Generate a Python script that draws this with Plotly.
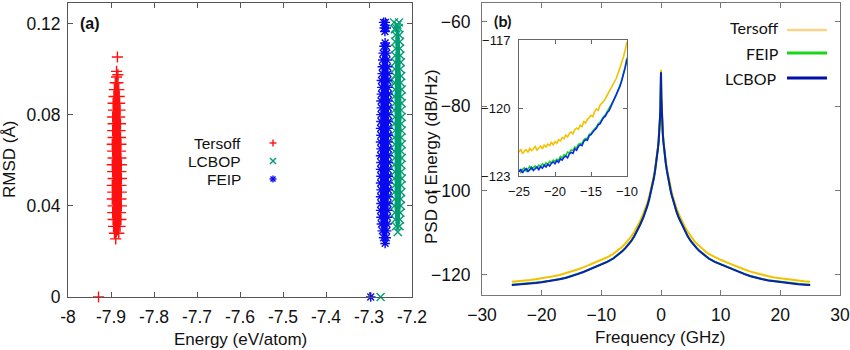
import plotly.graph_objects as go

# ---------------- Panel (a) data: RMSD vs Energy (cloud outlines) ----------------
tersoff_cloud_E = [-7.889, -7.892, -7.894, -7.895, -7.896, -7.895, -7.897, -7.896, -7.897, -7.895,
                   -7.896, -7.897, -7.895, -7.896, -7.897, -7.895, -7.896, -7.895, -7.896, -7.894,
                   -7.895, -7.893, -7.892, -7.890,
                   -7.887,
                   -7.884, -7.882, -7.881, -7.880, -7.879, -7.880, -7.878, -7.879, -7.878, -7.877,
                   -7.878, -7.877, -7.876, -7.877, -7.876, -7.877, -7.876, -7.877, -7.876, -7.878,
                   -7.877, -7.879, -7.882]
tersoff_cloud_R = [0.0255, 0.028, 0.031, 0.034, 0.037, 0.040, 0.043, 0.046, 0.049, 0.052,
                   0.055, 0.058, 0.061, 0.064, 0.067, 0.070, 0.073, 0.076, 0.079, 0.082,
                   0.085, 0.088, 0.091, 0.094,
                   0.0965,
                   0.094, 0.091, 0.088, 0.085, 0.082, 0.079, 0.076, 0.073, 0.070, 0.067,
                   0.064, 0.061, 0.058, 0.055, 0.052, 0.049, 0.046, 0.043, 0.040, 0.037,
                   0.034, 0.031, 0.028]
tersoff_extra_E = [-7.885, -7.887, -7.884, -7.929]
tersoff_extra_R = [0.1053, 0.099, 0.0975, 0.0]

feip_cloud_E = [-7.2625, -7.266, -7.269, -7.271, -7.272, -7.273, -7.272, -7.273, -7.272, -7.273,
                -7.272, -7.273, -7.272, -7.273, -7.272, -7.273, -7.272, -7.273, -7.272, -7.272,
                -7.271, -7.272, -7.271, -7.270, -7.271, -7.269, -7.269, -7.268, -7.267, -7.265,
                -7.2625,
                -7.260, -7.259, -7.258, -7.257, -7.256, -7.257, -7.256, -7.255, -7.256, -7.255,
                -7.256, -7.255, -7.256, -7.255, -7.256, -7.255, -7.256, -7.255, -7.256, -7.255,
                -7.256, -7.255, -7.256, -7.256, -7.257, -7.257, -7.258, -7.259, -7.260]
feip_cloud_R = [0.0235, 0.026, 0.029, 0.032, 0.035, 0.038, 0.041, 0.044, 0.047, 0.050,
                0.053, 0.056, 0.059, 0.062, 0.065, 0.068, 0.071, 0.074, 0.077, 0.080,
                0.083, 0.086, 0.089, 0.092, 0.095, 0.098, 0.101, 0.104, 0.107, 0.110,
                0.1115,
                0.110, 0.107, 0.104, 0.101, 0.098, 0.095, 0.092, 0.089, 0.086, 0.083,
                0.080, 0.077, 0.074, 0.071, 0.068, 0.065, 0.062, 0.059, 0.056, 0.053,
                0.050, 0.047, 0.044, 0.041, 0.038, 0.035, 0.032, 0.029, 0.026]
feip_extra_E = [-7.266, -7.262, -7.2645, -7.260, -7.263, -7.296]
feip_extra_R = [0.1205, 0.1205, 0.118, 0.118, 0.1165, 0.0]

lcbop_cloud_E = [-7.233, -7.237, -7.239, -7.240, -7.241, -7.240, -7.241, -7.240, -7.241, -7.240,
                 -7.241, -7.240, -7.241, -7.240, -7.241, -7.240, -7.241, -7.240, -7.241, -7.240,
                 -7.241, -7.240, -7.240, -7.239, -7.240, -7.239, -7.239, -7.238, -7.239, -7.238,
                 -7.237, -7.234,
                 -7.231, -7.229, -7.228, -7.228, -7.227, -7.226, -7.227, -7.225, -7.226, -7.224,
                 -7.225, -7.224, -7.225, -7.224, -7.225, -7.224, -7.225, -7.224, -7.225, -7.224,
                 -7.225, -7.225, -7.224, -7.225, -7.225, -7.226, -7.226, -7.227, -7.228, -7.229]
lcbop_cloud_R = [0.0285, 0.031, 0.034, 0.037, 0.040, 0.043, 0.046, 0.049, 0.052, 0.055,
                 0.058, 0.061, 0.064, 0.067, 0.070, 0.073, 0.076, 0.079, 0.082, 0.085,
                 0.088, 0.091, 0.094, 0.097, 0.100, 0.103, 0.106, 0.109, 0.112, 0.115,
                 0.118, 0.1195,
                 0.118, 0.115, 0.112, 0.109, 0.106, 0.103, 0.100, 0.097, 0.094, 0.091,
                 0.088, 0.085, 0.082, 0.079, 0.076, 0.073, 0.070, 0.067, 0.064, 0.061,
                 0.058, 0.055, 0.052, 0.049, 0.046, 0.043, 0.040, 0.037, 0.034, 0.031]
lcbop_extra_E = [-7.242, -7.230, -7.240, -7.2505, -7.273]
lcbop_extra_R = [0.1205, 0.1205, 0.1175, 0.095, 0.0]

energy_ticks = [-8.0, -7.9, -7.8, -7.7, -7.6, -7.5, -7.4, -7.3, -7.2]
energy_ticklabels = ["-8", "-7.9", "-7.8", "-7.7", "-7.6", "-7.5", "-7.4", "-7.3", "-7.2"]
rmsd_ticks = [0, 0.04, 0.08, 0.12]
rmsd_ticklabels = ["0", "0.04", "0.08", "0.12"]

# ---------------- Panel (b) data: PSD of energy ----------------
freq_main = [-25, -24, -23, -22, -21, -20, -19, -18, -17, -16, -15, -14, -13, -12, -11, -10, -9,
             -8, -7.5, -7, -6.5, -6, -5.5, -5, -4.5, -4, -3.5, -3, -2.6, -2.3, -2, -1.8, -1.6, -1.4,
             -1.2, -1, -0.8, -0.7, -0.6, -0.5, -0.4, -0.3, -0.2, -0.15, -0.1, -0.06, -0.03,
             0,
             0.03, 0.06, 0.1, 0.15, 0.2, 0.3, 0.4, 0.5, 0.6, 0.7, 0.8, 1, 1.2,
             1.4, 1.6, 1.8, 2, 2.3, 2.6, 3, 3.5, 4, 4.5, 5, 5.5, 6, 6.5, 7, 7.5, 8,
             9, 10, 11, 12, 13, 14, 15, 16, 17, 18, 19, 20, 21, 22, 23, 24, 25]
tersoff_psd = [-121.6, -121.5, -121.4, -121.2, -121.0, -120.8, -120.6, -120.3, -120.0, -119.6,
               -119.2, -118.7, -118.2, -117.6, -117.0, -116.4, -115.8,
               -115.0, -114.5, -113.9, -113.3, -112.6, -111.8, -110.9, -109.8, -108.6, -107.2,
               -105.6, -104.2, -103.0, -101.5, -100.4, -99.3, -98.0, -96.5, -94.9, -93.0,
               -91.9, -90.8, -89.5, -88.0, -86.1, -83.6, -82.0, -79.9, -77.6, -75.0,
               -71.4,
               -75.0, -77.6, -79.9, -82.0, -83.6, -86.1, -88.0, -89.5, -90.8, -91.9,
               -93.0, -94.9, -96.5, -98.0, -99.3, -100.4, -101.5, -103.0, -104.2, -105.6,
               -107.2, -108.6, -109.8, -110.9, -111.8, -112.6, -113.3, -113.9, -114.5, -115.0,
               -115.8, -116.4, -117.0, -117.6, -118.2, -118.7, -119.2, -119.6, -120.0, -120.3,
               -120.6, -120.8, -121.0, -121.2, -121.4, -121.5, -121.6]
feip_psd = [-122.3, -122.2, -122.1, -121.95, -121.8, -121.65, -121.45, -121.25, -120.95, -120.65,
            -120.25, -119.75, -119.25, -118.65, -118.05, -117.45, -116.85,
            -116.05, -115.55, -114.95, -114.35, -113.65, -112.85, -111.95, -110.85, -109.55, -108.05,
            -106.45, -104.95, -103.65, -102.15, -101.05, -99.85, -98.55, -97.05, -95.35, -93.45,
            -92.35, -91.15, -89.85, -88.35, -86.45, -83.95, -82.35, -80.25, -77.95, -75.45,
            -72.0,
            -75.45, -77.95, -80.25, -82.35, -83.95, -86.45, -88.35, -89.85, -91.15, -92.35,
            -93.45, -95.35, -97.05, -98.55, -99.85, -101.05, -102.15, -103.65, -104.95, -106.45,
            -108.05, -109.55, -110.85, -111.95, -112.85, -113.65, -114.35, -114.95, -115.55, -116.05,
            -116.85, -117.45, -118.05, -118.65, -119.25, -119.75, -120.25, -120.65, -120.95, -121.25,
            -121.45, -121.65, -121.8, -121.95, -122.1, -122.2, -122.3]
lcbop_psd = [-122.4, -122.3, -122.2, -122.0, -121.9, -121.7, -121.5, -121.3, -121.0, -120.7,
             -120.3, -119.8, -119.3, -118.7, -118.1, -117.5, -116.9,
             -116.1, -115.6, -115.0, -114.4, -113.7, -112.9, -112.0, -110.9, -109.6, -108.1,
             -106.5, -105.0, -103.7, -102.2, -101.1, -99.9, -98.6, -97.1, -95.4, -93.5,
             -92.4, -91.2, -89.9, -88.4, -86.5, -84.0, -82.4, -80.3, -78.0, -75.5,
             -72.0,
             -75.5, -78.0, -80.3, -82.4, -84.0, -86.5, -88.4, -89.9, -91.2, -92.4,
             -93.5, -95.4, -97.1, -98.6, -99.9, -101.1, -102.2, -103.7, -105.0, -106.5,
             -108.1, -109.6, -110.9, -112.0, -112.9, -113.7, -114.4, -115.0, -115.6, -116.1,
             -116.9, -117.5, -118.1, -118.7, -119.3, -119.8, -120.3, -120.7, -121.0, -121.3,
             -121.5, -121.7, -121.9, -122.0, -122.2, -122.3, -122.4]

# inset (zoom of -25..-10 GHz)
freq_inset = [-25.00, -24.75, -24.50, -24.25, -24.00, -23.75, -23.50, -23.25, -23.00, -22.75,
              -22.50, -22.25, -22.00, -21.75, -21.50, -21.25, -21.00, -20.75, -20.50, -20.25,
              -20.00, -19.75, -19.50, -19.25, -19.00, -18.75, -18.50, -18.25, -18.00, -17.75,
              -17.50, -17.25, -17.00, -16.75, -16.50, -16.25, -16.00, -15.75, -15.50, -15.25,
              -15.00, -14.75, -14.50, -14.25, -14.00, -13.75, -13.50, -13.25, -13.00, -12.75,
              -12.50, -12.25, -12.00, -11.75, -11.50, -11.25, -11.00, -10.75, -10.50, -10.25,
              -10.00]
tersoff_inset = [-121.95, -121.82, -122.02, -121.90, -121.84, -121.96, -121.78, -121.88, -121.80, -121.70,
                 -121.86, -121.76, -121.68, -121.80, -121.64, -121.72, -121.60, -121.66, -121.52, -121.62,
                 -121.48, -121.56, -121.40, -121.46, -121.30, -121.36, -121.20, -121.28, -121.12, -121.06,
                 -121.14, -120.96, -120.88, -120.94, -120.76, -120.82, -120.60, -120.66, -120.50, -120.42,
                 -120.32, -120.38, -120.16, -120.04, -120.10, -119.88, -119.80, -119.70, -119.58, -119.44,
                 -119.30, -119.18, -119.02, -118.88, -118.70, -118.48, -118.26, -118.02, -117.76, -117.44,
                 -117.07]
feip_inset = [-122.72, -122.84, -122.70, -122.64, -122.78, -122.66, -122.58, -122.70, -122.62, -122.56,
              -122.66, -122.52, -122.58, -122.46, -122.54, -122.42, -122.50, -122.36, -122.42, -122.30,
              -122.36, -122.26, -122.30, -122.14, -122.20, -122.06, -122.10, -121.94, -121.98, -121.84,
              -121.88, -121.72, -121.76, -121.60, -121.56, -121.58, -121.40, -121.34, -121.36, -121.16,
              -121.12, -121.00, -120.92, -120.84, -120.70, -120.64, -120.50, -120.38, -120.30, -120.16,
              -120.06, -119.90, -119.78, -119.60, -119.42, -119.24, -119.02, -118.78, -118.50, -118.18,
              -117.78]
lcbop_inset = [-122.82, -122.70, -122.86, -122.74, -122.68, -122.80, -122.72, -122.62, -122.76, -122.66,
               -122.60, -122.72, -122.58, -122.66, -122.52, -122.60, -122.48, -122.56, -122.44, -122.38,
               -122.46, -122.32, -122.40, -122.24, -122.30, -122.18, -122.12, -122.20, -122.02, -121.96,
               -122.00, -121.80, -121.86, -121.70, -121.62, -121.66, -121.48, -121.40, -121.42, -121.22,
               -121.18, -121.06, -120.96, -120.90, -120.74, -120.70, -120.56, -120.42, -120.36, -120.20,
               -120.12, -119.94, -119.84, -119.66, -119.48, -119.28, -119.06, -118.82, -118.56, -118.22,
               -117.85]

freq_ticks = [-30, -20, -10, 0, 10, 20, 30]
psd_ticks = [-120, -100, -80, -60]
inset_xticks = [-25, -20, -15, -10]
inset_yticks = [-123, -120, -117]

# ---------------- styling ----------------
W, H = 850, 350
RED, TEAL, BLUE = "#ff1010", "#009e73", "#0a0af0"
GOLD, GREEN, NAVY = "#f2c200", "#19d619", "#0c1fb0"
FONT = "Liberation Sans, Arial, sans-serif"
LEGFONT = "Lato, Open Sans, sans-serif"


def PX(x):
    return x / W


def PY(y):
    return 1 - y / H


fig = go.Figure()


def cloud(E, R, color, symbol):
    fig.add_trace(go.Scatter(x=E, y=R, mode="markers", fill="toself", fillcolor=color,
                             marker=dict(symbol=symbol, size=8, color=color,
                                         line=dict(color=color, width=1.4)),
                             line=dict(width=0, color=color),
                             showlegend=False, hoverinfo="skip", xaxis="x", yaxis="y"))


def extras(E, R, color, symbol):
    fig.add_trace(go.Scatter(x=E, y=R, mode="markers", cliponaxis=False,
                             marker=dict(symbol=symbol, size=8, color=color,
                                         line=dict(color=color, width=1.4)),
                             showlegend=False, xaxis="x", yaxis="y"))


cloud(tersoff_cloud_E, tersoff_cloud_R, RED, "cross-thin")
extras(tersoff_extra_E, tersoff_extra_R, RED, "cross-thin")
cloud(lcbop_cloud_E, lcbop_cloud_R, TEAL, "x-thin")
extras(lcbop_extra_E, lcbop_extra_R, TEAL, "x-thin")
cloud(feip_cloud_E, feip_cloud_R, BLUE, "asterisk")
extras(feip_extra_E, feip_extra_R, BLUE, "asterisk")

# panel b main
fig.add_trace(go.Scatter(x=freq_main, y=tersoff_psd, mode="lines", line=dict(color=GOLD, width=2),
                         showlegend=False, xaxis="x2", yaxis="y2"))
fig.add_trace(go.Scatter(x=freq_main, y=feip_psd, mode="lines", line=dict(color=GREEN, width=2),
                         showlegend=False, xaxis="x2", yaxis="y2"))
fig.add_trace(go.Scatter(x=freq_main, y=lcbop_psd, mode="lines", line=dict(color=NAVY, width=2),
                         showlegend=False, xaxis="x2", yaxis="y2"))
# inset
fig.add_trace(go.Scatter(x=freq_inset, y=tersoff_inset, mode="lines", line=dict(color=GOLD, width=1.6),
                         showlegend=False, xaxis="x3", yaxis="y3"))
fig.add_trace(go.Scatter(x=freq_inset, y=feip_inset, mode="lines", line=dict(color=GREEN, width=1.6),
                         showlegend=False, xaxis="x3", yaxis="y3"))
fig.add_trace(go.Scatter(x=freq_inset, y=lcbop_inset, mode="lines", line=dict(color="#0a2af0", width=1.6),
                         showlegend=False, xaxis="x3", yaxis="y3"))

tickfont = dict(family=FONT, size=17.5, color="#111")
common = dict(showgrid=False, zeroline=False, showline=True, mirror="ticks", ticks="inside",
              ticklen=5, tickwidth=1, automargin=False)

fig.update_layout(
    width=W, height=H, margin=dict(l=0, r=0, t=0, b=0, autoexpand=False),
    paper_bgcolor="white", plot_bgcolor="white", showlegend=False,
    xaxis=dict(domain=[PX(68), PX(412)], range=[-8, -7.2], tickvals=energy_ticks,
               ticktext=energy_ticklabels, anchor="y", linecolor="#555", tickcolor="#555",
               tickfont=tickfont, ticklabelstandoff=4, **common),
    yaxis=dict(domain=[PY(297), PY(3)], range=[0, 0.129], tickvals=rmsd_ticks,
               ticktext=rmsd_ticklabels, anchor="x", linecolor="#555", tickcolor="#555",
               tickfont=tickfont, ticklabelstandoff=3, **common),
    xaxis2=dict(domain=[PX(482), PX(840)], range=[-30, 30], tickvals=freq_ticks,
                anchor="y2", linecolor="#777", tickcolor="#777",
                tickfont=tickfont, ticklabelstandoff=4, **common),
    yaxis2=dict(domain=[PY(295), PY(3)], range=[-124.74, -55.57], tickvals=psd_ticks,
                anchor="x2", linecolor="#777", tickcolor="#777",
                tickfont=tickfont, ticklabelstandoff=7, **common),
    xaxis3=dict(domain=[PX(519), PX(627)], range=[-25, -10], tickvals=inset_xticks,
                anchor="y3", linecolor="#666", tickcolor="#666",
                tickfont=dict(family=FONT, size=13, color="#111"), ticklabelstandoff=3,
                **dict(common, ticklen=4)),
    yaxis3=dict(domain=[PY(176), PY(40)], range=[-123, -117], tickvals=inset_yticks,
                anchor="x3", linecolor="#666", tickcolor="#666",
                tickfont=dict(family=FONT, size=13, color="#111"), ticklabelstandoff=5,
                **dict(common, ticklen=4)),
)

ann = []


def text(x, y, s, size=17, font=FONT, color="#111", xanchor="center", angle=0, bold=False):
    ann.append(dict(x=PX(x), y=PY(y), xref="paper", yref="paper", text=(f"<b>{s}</b>" if bold else s),
                    showarrow=False, xanchor=xanchor, yanchor="middle", textangle=angle,
                    font=dict(family=font, size=size, color=color)))


text(90, 23, "(a)", size=16, bold=True)
text(502, 20, "(b)", size=16, font=LEGFONT, bold=True)
text(10, 160, "RMSD (Å)", angle=-90)
text(240, 339, "Energy (eV/atom)")
text(431, 157, "PSD of Energy (dB/Hz)", angle=-90)
text(660, 337, "Frequency (GHz)")
# legend (a)
text(243, 143, "Tersoff", size=15.5, xanchor="right")
text(243, 161, "LCBOP", size=15.5, xanchor="right")
text(243, 179, "FEIP", size=15.5, xanchor="right")
# legend (b)
text(781, 28, "Tersoff", size=16, font=LEGFONT, xanchor="right")
text(781, 53, "FEIP", size=16, font=LEGFONT, xanchor="right")
text(779, 78, "LCBOP", size=16, font=LEGFONT, xanchor="right")
fig.update_layout(annotations=ann)

shapes = []


def seg(x0, y0, x1, y1, color, width):
    shapes.append(dict(type="line", xref="paper", yref="paper", x0=PX(x0), y0=PY(y0),
                       x1=PX(x1), y1=PY(y1), line=dict(color=color, width=width)))


# legend symbols (a)
seg(269.5, 143, 276.5, 143, RED, 1.4); seg(273, 139.5, 273, 146.5, RED, 1.4)
seg(270, 158, 276, 164, TEAL, 1.4); seg(270, 164, 276, 158, TEAL, 1.4)
seg(269.5, 179, 276.5, 179, BLUE, 1.4); seg(273, 175.5, 273, 182.5, BLUE, 1.4)
seg(270.5, 176.5, 275.5, 181.5, BLUE, 1.4); seg(270.5, 181.5, 275.5, 176.5, BLUE, 1.4)
# legend lines (b)
seg(787, 30, 827, 30, "#fbd48a", 2.5)
seg(787, 53, 827, 53, GREEN, 3)
seg(787, 78, 827, 78, "#0010a8", 3)
fig.update_layout(shapes=shapes)

fig.write_html("out.html", config={"displayModeBar": False})
